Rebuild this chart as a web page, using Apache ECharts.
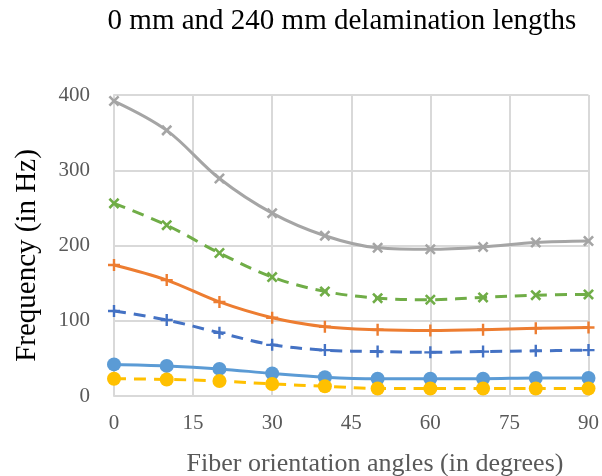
<!DOCTYPE html>
<html>
<head>
<meta charset="utf-8">
<script src="https://cdn.jsdelivr.net/npm/echarts@6/dist/echarts.min.js"></script>
<style>
  html, body { margin: 0; padding: 0; background: #fff; }
  #chart { width: 602px; height: 476px; }
</style>
</head>
<body>
<div id="chart"></div>
<script>
// fiber angles (deg)
var angles = [0, 10, 20, 30, 40, 50, 60, 70, 80, 90];
var xTicks = [0, 15, 30, 45, 60, 75, 90];
var yTicks = [0, 100, 200, 300, 400];

// frequencies (Hz)
var mode1 = [42, 40, 36, 30, 25, 23, 23, 23, 24, 24];          // blue, circle, solid
var mode2 = [174, 154, 125, 104, 92, 88, 87, 88, 90, 91];      // orange, plus, solid
var mode3 = [392, 353, 289, 243, 213, 197, 195, 198, 204, 206]; // grey, cross, solid
var mode4 = [23, 22, 20, 16, 13, 10, 10, 10, 10, 10];          // yellow, circle, dashed
var mode5 = [113, 101, 84, 68, 61, 59, 58, 59, 60, 61];        // dark blue, plus, dashed
var mode6 = [256, 227, 190, 158, 139, 130, 128, 131, 134, 135]; // green, cross, dashed

var plusPath = 'path://M4,0h2v4h4v2h-4v4h-2v-4h-4v-2h4z';

function pairs(vals) {
  return angles.map(function (a, i) { return [a, vals[i]]; });
}

function mk(name, vals, color, symbol, dashed, size, rotate) {
  return {
    name: name,
    type: 'line',
    data: pairs(vals),
    smooth: 0.35,
    symbol: symbol,
    symbolSize: size,
    symbolRotate: rotate || 0,
    showSymbol: true,
    lineStyle: { color: color, width: 3, type: dashed ? [12, 8] : 'solid' },
    itemStyle: { color: color, borderWidth: 0 },
    emphasis: { disabled: true },
    z: 2
  };
}

var myChart = echarts.init(document.getElementById('chart'));
var option = {
  animation: false,
  title: [{
    text: '0 mm and 240 mm delamination lengths',
    left: 337, top: 2, textAlign: 'center',
    textStyle: { fontFamily: 'Liberation Serif', fontSize: 29, fontWeight: 'normal', color: '#000' }
  }, {
    text: 'Fiber orientation angles (in degrees)',
    left: 370, top: 446, textAlign: 'center',
    textStyle: { fontFamily: 'Liberation Serif', fontSize: 26, fontWeight: 'normal', color: '#595959' }
  }],
  grid: { left: 114, top: 95, right: 12, bottom: 80 },
  xAxis: {
    type: 'value',
    min: 0, max: 90, interval: 15,
    axisLine: { show: false },
    axisTick: { show: false },
    axisLabel: {
      margin: 17, color: '#595959', fontFamily: 'Liberation Serif', fontSize: 21,
      formatter: function (v) { return xTicks.indexOf(v) >= 0 ? v : ''; }
    },
    splitLine: { lineStyle: { color: '#d9d9d9', width: 2 } }
  },
  yAxis: {
    type: 'value',
    min: 0, max: 400, interval: 100,
    name: 'Frequency (in Hz)',
    nameLocation: 'middle',
    nameGap: 72,
    nameTextStyle: { fontFamily: 'Liberation Serif', fontSize: 29, color: '#000', padding: [0, 20, 0, 0] },
    axisLine: { show: true, lineStyle: { color: '#d9d9d9', width: 2 } },
    axisTick: { show: false },
    axisLabel: {
      margin: 24, color: '#595959', fontFamily: 'Liberation Serif', fontSize: 21,
      formatter: function (v) { return yTicks.indexOf(v) >= 0 ? v : ''; }
    },
    splitLine: { lineStyle: { color: '#d9d9d9', width: 2 } }
  },
  series: [
    mk('Mode 3', mode3, '#a5a5a5', plusPath, false, 13, 45),
    mk('Mode 6', mode6, '#70ad47', plusPath, true, 13, 45),
    mk('Mode 2', mode2, '#ed7d31', plusPath, false, 12, 0),
    mk('Mode 5', mode5, '#4472c4', plusPath, true, 12, 0),
    mk('Mode 1', mode1, '#5b9bd5', 'circle', false, 14, 0),
    mk('Mode 4', mode4, '#ffc000', 'circle', true, 14, 0)
  ]
};
myChart.setOption(option);
</script>
</body>
</html>
